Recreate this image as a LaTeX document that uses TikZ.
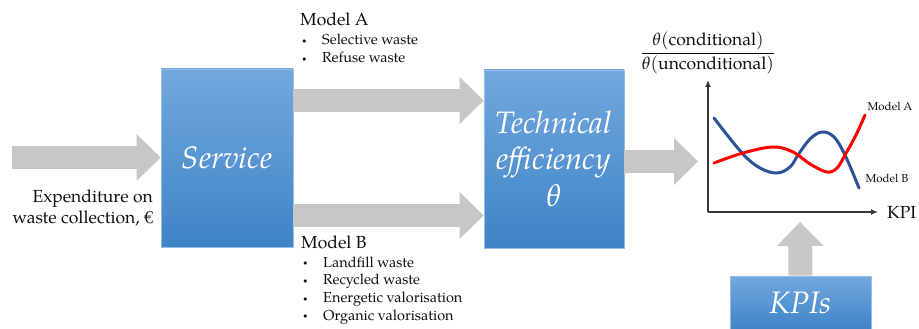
\documentclass[tikz,border=0pt]{standalone}
\usepackage{mathpazo}
\usepackage{fontspec}
\setmainfont{TeX Gyre Pagella}
\usetikzlibrary{arrows.meta}
\definecolor{boxtop}{RGB}{114,168,222}
\definecolor{boxbot}{RGB}{62,131,198}
\definecolor{boxedge}{RGB}{150,190,232}
\definecolor{arrowgray}{RGB}{199,199,199}
\definecolor{axisgray}{RGB}{55,55,55}
\definecolor{curveblue}{RGB}{46,82,150}
\definecolor{curvered}{RGB}{255,0,0}
\definecolor{txt}{RGB}{15,15,15}
\newcommand{\blt}{\hspace*{2pt}\makebox[20pt][l]{\raisebox{1.5pt}{\fontsize{8}{8}\selectfont\textbullet}}}
\begin{document}
\begin{tikzpicture}[x=1pt,y=-1pt,
  bluebox/.style={rectangle, top color=boxtop, bottom color=boxbot, draw=boxedge, line width=0.8pt,
    text=white, font=\itshape\fontsize{31}{36}\selectfont, align=center, inner sep=0pt},
  blk/.style={draw=arrowgray, line width=23pt,
    -{Triangle[width=47pt,length=24pt,line width=0pt]}},
  lbl/.style={text=txt, font=\fontsize{17.5}{21}\selectfont, inner sep=0pt},
  itm/.style={text=txt, font=\fontsize{14.5}{17}\selectfont, inner sep=0pt, anchor=base west},
  small/.style={text=txt, font=\fontsize{11.5}{13}\selectfont, inner sep=0pt},
  axis/.style={draw=axisgray, line width=1.3pt, -{Latex[length=7pt,width=6pt]}},
  curve/.style={line width=3pt, line cap=round}]
\useasboundingbox (0,0) rectangle (919,329);

% boxes
\node[bluebox, minimum width=132, minimum height=178] (svc) at (227,158) {Service};
\node[bluebox, minimum width=140, minimum height=178] (te) at (554,159) {Technical\\efficiency\\[1pt]$\theta$};
\node[bluebox, minimum width=141, minimum height=54] (kpis) at (800.5,303) {KPIs};

% helper coordinates
\coordinate (inA) at (12,157.5);
\coordinate (ya) at (0,100.5);
\coordinate (yb) at (0,215.5);
\coordinate (chartin) at (698,161.5);
\coordinate (kpiup) at (800,222);

% block arrows
\draw[blk] (inA) -- (svc.west |- inA);
\draw[blk] (svc.east |- ya) -- (te.west |- ya);
\draw[blk] (svc.east |- yb) -- (te.west |- yb);
\draw[blk] (te.east |- chartin) -- (chartin);
\draw[blk, line width=24pt] (kpis.north) -- (kpiup);

% input label
\node[lbl, anchor=base east] (e1) at (153,202) {Expenditure on};
\node[lbl, anchor=base east] (e2) at (153,223) {waste collection, €};

% model A
\node[lbl, anchor=base west] (ma) at (300,26) {Model A};
\node[itm] (ma1) at (300,45) {\blt Selective waste};
\node[itm] (ma2) at (300,63) {\blt Refuse waste};

% model B
\node[lbl, anchor=base west] (mb) at (301,248) {Model B};
\node[itm] (mb1) at (301,267) {\blt Landfill waste};
\node[itm] (mb2) at (301,284.5) {\blt Recycled waste};
\node[itm] (mb3) at (301,302.5) {\blt Energetic valorisation};
\node[itm] (mb4) at (301,320) {\blt Organic valorisation};

% chart
\coordinate (O) at (708,212);
\coordinate (ytop) at (708,80);
\coordinate (xend) at (878,212);
\draw[axis] (O) -- (ytop);
\draw[axis] (O) -- (xend);
\node[lbl, anchor=west] (kpilbl) at (887,212) {KPI};
\node[lbl] (frac) at (708,53) {$\displaystyle\frac{\theta(\textnormal{conditional})}{\theta(\textnormal{unconditional})}$};

\draw[curve, curveblue] plot[smooth, tension=0.6] coordinates
  {(714,118) (742,153) (760,168) (777,173) (790,167) (798,155) (810,139) (822,132) (834,137) (845,155) (859,188)};
\draw[curve, curvered] plot[smooth, tension=0.6] coordinates
  {(714,163) (743,153) (773,147) (793,152) (810,164) (827,172) (837,168) (845,155) (856,135) (865,115)};

\node[small] (lA) at (890,106) {Model A};
\node[small] (lB) at (887,178) {Model B};
\end{tikzpicture}
\end{document}
